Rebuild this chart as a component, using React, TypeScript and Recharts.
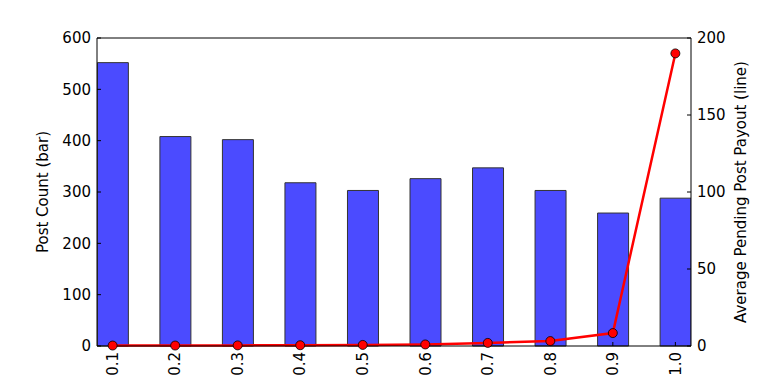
import {
  ComposedChart,
  Bar,
  Line,
  XAxis,
  YAxis,
  ReferenceLine,
} from "recharts";

const ratios = ["0.1", "0.2", "0.3", "0.4", "0.5", "0.6", "0.7", "0.8", "0.9", "1.0"];
const postCounts = [552, 408, 402, 318, 303, 326, 347, 303, 259, 288];
const avgPayouts = [0.3, 0.3, 0.4, 0.5, 0.7, 1.0, 2.0, 3.2, 8.4, 190];
const leftTicks = [0, 100, 200, 300, 400, 500, 600];
const rightTicks = [0, 50, 100, 150, 200];

const chartData = ratios.map((r, i) => ({
  idx: i,
  label: r,
  count: postCounts[i],
  payout: avgPayouts[i],
}));

const FONT = "'DejaVu Sans', sans-serif";

function RotatedTick(props: any) {
  const { x, y, payload } = props;
  return (
    <text
      x={x}
      y={y}
      transform={`rotate(-90, ${x}, ${y})`}
      textAnchor="end"
      dy="0.35em"
      fontSize={15}
      fontFamily={FONT}
      fill="#000"
    >
      {ratios[payload.value]}
    </text>
  );
}

function App() {
  return (
    <div style={{ position: "absolute", left: 0, top: 0 }}>
      <ComposedChart
        width={768}
        height={384}
        data={chartData}
        margin={{ top: 38, right: 0, left: 0, bottom: 0 }}
      >
        <XAxis
          dataKey="idx"
          type="number"
          domain={[-0.25, 9.25]}
          ticks={[0, 1, 2, 3, 4, 5, 6, 7, 8, 9]}
          allowDataOverflow
          height={38}
          axisLine={{ stroke: "#000" }}
          tickLine={{ stroke: "#000" }}
          tickSize={-4}
          tickMargin={10}
          tick={<RotatedTick />}
        />
        <YAxis
          yAxisId="left"
          domain={[0, 600]}
          ticks={leftTicks}
          width={97}
          axisLine={{ stroke: "#000" }}
          tickLine={{ stroke: "#000" }}
          tickSize={-4}
          tickMargin={10}
          tick={{ fill: "#000", fontSize: 15, fontFamily: FONT }}
          label={{
            value: "Post Count (bar)",
            angle: -90,
            position: "center",
            dx: -6,
            style: { textAnchor: "middle", fill: "#000", fontSize: 15, fontFamily: FONT },
          }}
        />
        <YAxis
          yAxisId="right"
          orientation="right"
          domain={[0, 200]}
          ticks={rightTicks}
          width={77}
          axisLine={{ stroke: "#000" }}
          tickLine={{ stroke: "#000" }}
          tickSize={-4}
          tickMargin={10}
          tick={{ fill: "#000", fontSize: 15, fontFamily: FONT }}
          label={{
            value: "Average Pending Post Payout (line)",
            angle: -90,
            position: "center",
            dx: 11,
            style: { textAnchor: "middle", fill: "#000", fontSize: 15, fontFamily: FONT },
          }}
        />
        <ReferenceLine yAxisId="left" y={600} stroke="#000" />
        <Bar
          yAxisId="left"
          dataKey="count"
          barSize={31}
          fill="#4b4bff"
          stroke="#333"
          strokeWidth={1}
          isAnimationActive={false}
        />
        <Line
          yAxisId="right"
          dataKey="payout"
          type="linear"
          stroke="#ff0000"
          strokeWidth={2.5}
          dot={{ r: 4.5, fill: "#ff0000", stroke: "#000", strokeWidth: 0.8 }}
          isAnimationActive={false}
        />
      </ComposedChart>
    </div>
  );
}

export default App;
